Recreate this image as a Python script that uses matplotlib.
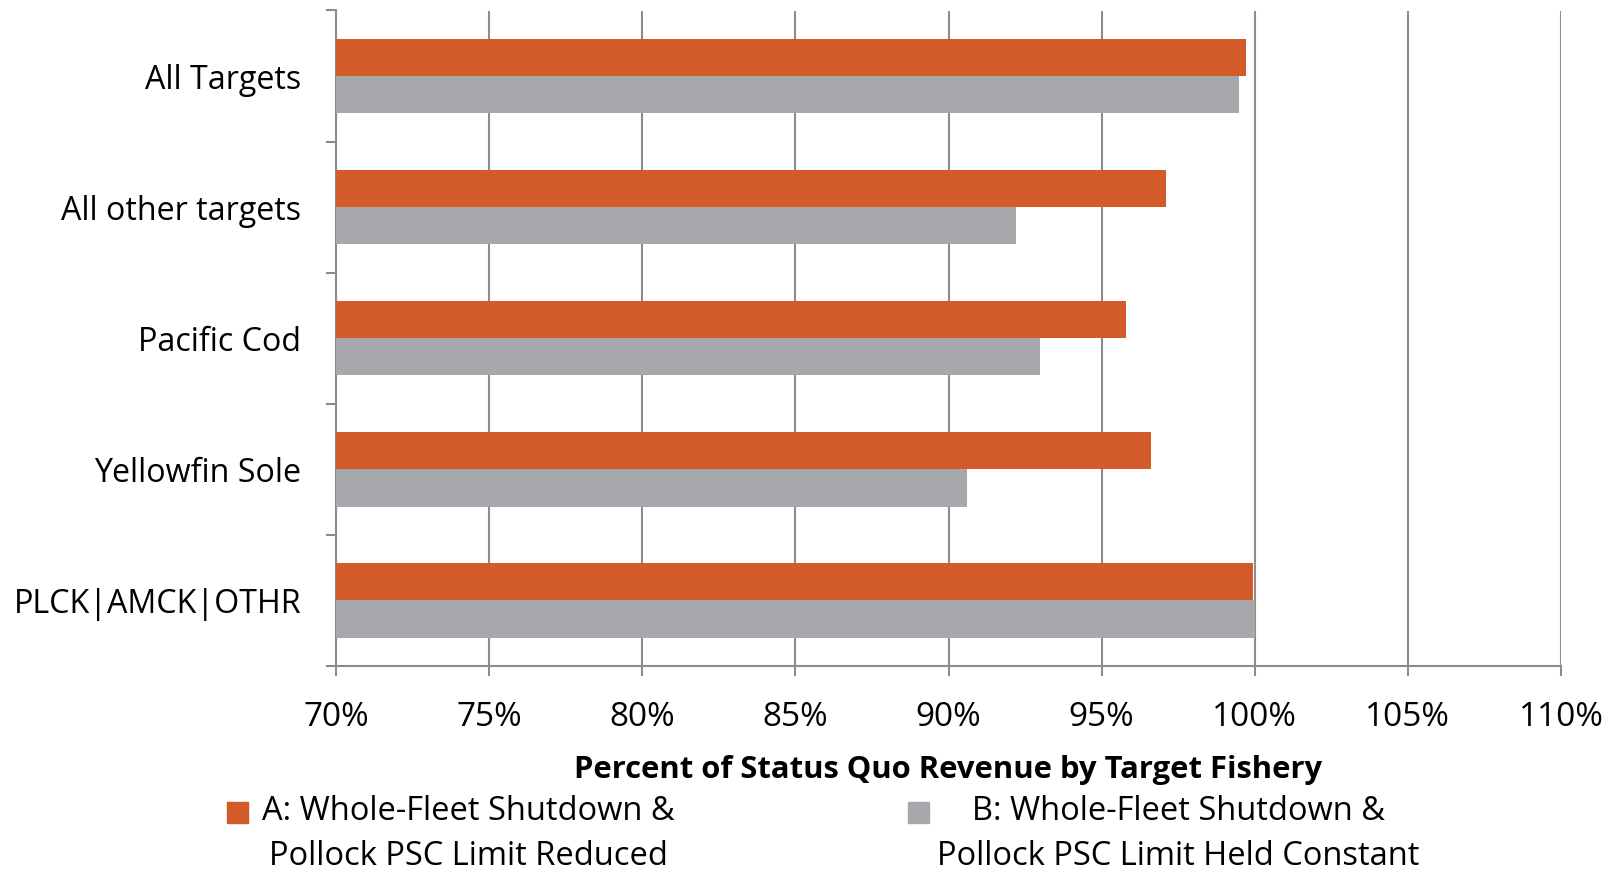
import numpy as np
import matplotlib.pyplot as plt
from matplotlib.patches import Rectangle
from matplotlib.ticker import FuncFormatter

plt.rcParams['font.family'] = ['Open Sans', 'DejaVu Sans']

# data
categories = ['All Targets', 'All other targets', 'Pacific Cod', 'Yellowfin Sole', 'PLCK|AMCK|OTHR']
series_a = [99.7, 97.1, 95.8, 96.6, 99.95]
series_b = [99.5, 92.2, 93.0, 90.6, 100.0]
label_a = 'A: Whole-Fleet Shutdown &\nPollock PSC Limit Reduced'
label_b = 'B: Whole-Fleet Shutdown &\nPollock PSC Limit Held Constant'
x_ticks = [70, 75, 80, 85, 90, 95, 100, 105, 110]

orange = '#D35B2A'
grey = '#A7A8AB'
axis_grey = '#8C8C8C'

W, H = 1619, 872
fig = plt.figure(figsize=(W / 100, H / 100), dpi=100)
ax = fig.add_axes([336 / W, 1 - 666 / H, (1561 - 336) / W, (666 - 10.5) / H])

y = np.arange(len(categories))
bh = 0.284
ax.barh(y - bh / 2, series_a, height=bh, color=orange, zorder=3)
ax.barh(y + bh / 2, series_b, height=bh, color=grey, zorder=3)

ax.set_xlim(70, 110)
ax.set_ylim(len(categories) - 0.5, -0.5)
ax.set_xticks(x_ticks)
ax.xaxis.set_major_formatter(FuncFormatter(lambda v, p: f'{v:.0f}%'))
ax.set_yticks(y)
ax.set_yticklabels(categories)
ax.set_yticks(np.arange(len(categories) + 1) - 0.5, minor=True)

ax.grid(axis='x', color=axis_grey, linewidth=1.5, zorder=0)
for side in ['top', 'right']:
    ax.spines[side].set_visible(False)
for side in ['left', 'bottom']:
    ax.spines[side].set_color(axis_grey)
    ax.spines[side].set_linewidth(1.5)

ax.tick_params(axis='y', which='major', length=0, pad=25, labelsize=23.2)
ax.tick_params(axis='y', which='minor', length=7.5, width=1.5, color=axis_grey)
ax.tick_params(axis='x', length=7.5, width=1.5, color=axis_grey, pad=17.5, labelsize=24)

ax.set_xlabel('Percent of Status Quo Revenue by Target Fishery', fontsize=22.3,
              fontweight='bold', labelpad=15)

# legend drawn by hand: square patch next to centred two-line labels
def fy(py):
    return 1 - py / H

for px, color, cx, text in [(227, orange, 468, label_a), (908, grey, 1178, label_b)]:
    fig.patches.append(Rectangle((px / W, fy(823)), 21 / W, 21 / H, color=color,
                                 transform=fig.transFigure, figure=fig))
    fig.text(cx / W, fy(834), text, ha='center', va='center', multialignment='center',
             fontsize=23.5, linespacing=1.48)

plt.savefig('out.png', dpi=100)
